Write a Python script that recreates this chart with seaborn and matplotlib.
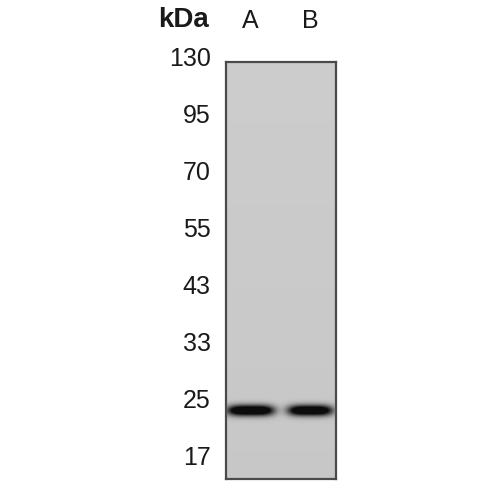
import numpy as np
import pandas as pd
import matplotlib
matplotlib.use("Agg")
import matplotlib.pyplot as plt
import seaborn as sns

# ---- data ----
marker_kda = [130, 95, 70, 55, 43, 33, 25, 17]
marker_labels = ["130", "95", "70", "55", "43", "33", "25", "17"]
lanes = ["A", "B"]
band_kda = [23.0, 23.0]
band_intensity = [1.0, 0.97]

sns.set_theme(style="white")
plt.rcParams["font.family"] = ["Liberation Sans", "DejaVu Sans"]

W = H = 500
fig = plt.figure(figsize=(5, 5), dpi=100)
fig.patch.set_facecolor("white")

# pixel geometry of blot box
bx0, bx1, by0, by1 = 226, 336, 62, 479
p0, step = 57.0, 56.86  # pixel of marker index 0 and spacing

def pix2idx(p):
    return (p - p0) / step

# label axes (ticks only)
lab_top, lab_bot = 40, 490
lax = fig.add_axes([bx0 / W, 1 - lab_bot / H, (bx1 - bx0) / W, (lab_bot - lab_top) / H])
lax.set_xlim(0, 1)
lax.set_ylim(pix2idx(lab_bot), pix2idx(lab_top))
lax.patch.set_alpha(0)
for s in lax.spines.values():
    s.set_visible(False)
lax.set_yticks(range(len(marker_labels)))
lax.set_yticklabels(marker_labels, fontsize=18, color="#1a1a1a")
lax.tick_params(axis="y", length=0, pad=11)
lane_x = [0.225, 0.765]
lax.xaxis.tick_top()
lax.set_xticks(lane_x)
lax.set_xticklabels(lanes, fontsize=18, color="#1a1a1a")
lax.tick_params(axis="x", length=0, pad=5)
lax.grid(False)
fig.text(184 / W, 1 - 20 / H, "kDa", ha="center", va="center",
         fontsize=20, fontweight="bold", color="#1a1a1a")

# blot image
nrow, ncol = by1 - by0, bx1 - bx0
rows_idx = pix2idx(by0 + np.arange(nrow) + 0.5)
cols = (np.arange(ncol) + 0.5) / ncol
bg = 0.80 - 0.02 * (rows_idx / 7.4)
img = np.tile(bg[:, None], (1, ncol))
log_m = -np.log(marker_kda)
half_w = [0.215, 0.205]
for xc, hw, kda, inten in zip(lane_x, half_w, band_kda, band_intensity):
    yi = np.interp(-np.log(kda), log_m, np.arange(len(marker_kda)))
    vy = np.exp(-0.5 * ((rows_idx - yi) / 0.068) ** 2)
    hx = np.exp(-(np.abs(cols - xc) / hw) ** 4)
    prof = inten * np.outer(vy, hx) * 1.5
    prof = np.clip(prof, 0, 1)
    img = img - prof * (img - 0.05)
df = pd.DataFrame(img)
bax = fig.add_axes([bx0 / W, 1 - by1 / H, (bx1 - bx0) / W, (by1 - by0) / H])
sns.heatmap(df, ax=bax, cmap="gray", vmin=0, vmax=1, cbar=False,
            xticklabels=False, yticklabels=False, rasterized=True)
for s in bax.spines.values():
    s.set_visible(True)
    s.set_color("#4a4a4a")
    s.set_linewidth(1.6)

fig.savefig("out.png", dpi=100)
